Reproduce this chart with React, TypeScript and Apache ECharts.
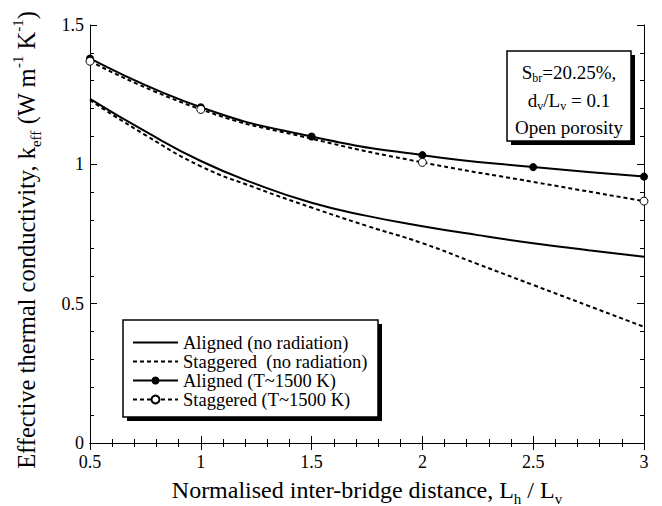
import React, { useEffect, useRef } from "react";
import * as echarts from "echarts";

const FONT = "Liberation Serif";

// x = normalised inter-bridge distance, y = k_eff
const alignedNoRad: [number, number][] = [
  [0.5, 1.235], [0.75, 1.118], [1, 1.012], [1.25, 0.929], [1.5, 0.862], [1.75, 0.815],
  [2, 0.778], [2.25, 0.746], [2.5, 0.717], [2.75, 0.692], [3, 0.668],
];
const staggeredNoRad: [number, number][] = [
  [0.5, 1.23], [0.75, 1.105], [1, 0.993], [1.25, 0.915], [1.5, 0.845], [1.75, 0.779],
  [2, 0.717], [2.25, 0.642], [2.5, 0.567], [2.75, 0.492], [3, 0.417],
];
const alignedRad: [number, number][] = [
  [0.5, 1.38], [1, 1.205], [1.5, 1.1], [2, 1.033], [2.5, 0.99], [3, 0.956],
];
const staggeredRad: [number, number][] = [
  [0.5, 1.37], [1, 1.197], [1.5, 1.092], [2, 1.007], [2.5, 0.937], [3, 0.868],
];
// points of the staggered (T~1500 K) curve that carry a marker
const staggeredRadMarked = [0.5, 1, 2, 3];

const seriesNames = [
  "Aligned (no radiation)",
  "Staggered  (no radiation)",
  "Aligned (T~1500 K)",
  "Staggered (T~1500 K)",
];

export default function App() {
  const ref = useRef<HTMLDivElement>(null);
  useEffect(() => {
    if (!ref.current) return;
    const chart = echarts.init(ref.current, null, { renderer: "svg" });
    const axisLine = { show: true, lineStyle: { color: "#000", width: 1 } };
    const tick = { show: true, inside: true, length: 7, lineStyle: { color: "#000", width: 1 } };
    const minorTick = { show: true, splitNumber: 5, length: 4, lineStyle: { color: "#000", width: 1 } };
    const label = { color: "#000", fontFamily: FONT, fontSize: 18 };
    const richFor = (size: number, small: number) => ({
      n: { fontFamily: FONT, fontSize: size, color: "#000", lineHeight: size + 8 },
      sub: { fontFamily: FONT, fontSize: small, color: "#000", lineHeight: small, verticalAlign: "bottom" },
      sup: { fontFamily: FONT, fontSize: small, color: "#000", lineHeight: small, verticalAlign: "top" },
    });
    const annRich = {
      n: { fontFamily: FONT, fontSize: 19, color: "#000", lineHeight: 24 },
      sub: { fontFamily: FONT, fontSize: 12, color: "#000", lineHeight: 12, verticalAlign: "bottom" },
    };
    const dash = [4, 3];
    const hiddenSymbol = { opacity: 0, color: "rgba(0,0,0,0)", borderColor: "rgba(0,0,0,0)", borderWidth: 0 };
    chart.setOption({
      animation: false,
      backgroundColor: "#fff",
      grid: { left: 90, right: 18, top: 25, bottom: 63, containLabel: false, outerBoundsMode: "none" },
      xAxis: [
        {
          type: "value", min: 0.5, max: 3, interval: 0.5,
          axisLine, axisTick: tick, minorTick, splitLine: { show: false },
          axisLabel: { ...label, margin: 10 },
          name: "{n|Normalised inter-bridge distance, L}{sub|h}{n| / L}{sub|v}",
          nameLocation: "middle", nameGap: 31,
          nameTextStyle: { rich: richFor(24, 15) },
        },
        {
          type: "value", position: "top", min: 0.5, max: 3, interval: 0.5,
          axisLine, axisTick: tick, minorTick, splitLine: { show: false },
          axisLabel: { show: false },
        },
      ],
      yAxis: [
        {
          type: "value", min: 0, max: 1.5, interval: 0.5,
          axisLine, axisTick: tick, minorTick, splitLine: { show: false },
          axisLabel: { ...label, margin: 6 },
          name: "{n|Effective thermal conductivity, k}{sub|eff}{n| (W m}{sup|-1}{n| K}{sup|-1}{n|)}",
          nameLocation: "middle", nameGap: 47,
          nameTextStyle: { rich: richFor(24.5, 15), padding: [0, 12, 0, 0] },
        },
        {
          type: "value", position: "right", min: 0, max: 1.5, interval: 0.5,
          axisLine, axisTick: tick, minorTick, splitLine: { show: false },
          axisLabel: { show: false },
        },
      ],
      legend: {
        orient: "vertical", left: 132, top: 333, padding: 0,
        itemWidth: 45, itemHeight: 10, itemGap: 0,
        textStyle: { fontFamily: FONT, fontSize: 18.5, color: "#000", lineHeight: 17.5 },
        data: [
          { name: seriesNames[0], itemStyle: hiddenSymbol },
          { name: seriesNames[1], itemStyle: hiddenSymbol },
          { name: seriesNames[2] },
          { name: seriesNames[3] },
        ],
      },
      graphic: [
        { type: "rect", shape: { x: 127, y: 324, width: 255, height: 97 }, style: { fill: "#000" }, z: 1 },
        { type: "rect", shape: { x: 123, y: 320, width: 255, height: 97 }, style: { fill: "#fff", stroke: "#000", lineWidth: 1.5 }, z: 1 },
        { type: "rect", shape: { x: 511, y: 55, width: 124, height: 90 }, style: { fill: "#000" }, z: 1 },
        { type: "rect", shape: { x: 507, y: 51, width: 124, height: 90 }, style: { fill: "#fff", stroke: "#000", lineWidth: 1.5 }, z: 1 },
        {
          type: "text", x: 569, y: 72, z: 2,
          style: { text: "{n|S}{sub|br}{n|=20.25%,}", rich: annRich, align: "center", verticalAlign: "middle" },
        },
        {
          type: "text", x: 569, y: 100, z: 2,
          style: { text: "{n|d}{sub|v}{n|/L}{sub|v}{n| = 0.1}", rich: annRich, align: "center", verticalAlign: "middle" },
        },
        {
          type: "text", x: 569, y: 127, z: 2,
          style: { text: "{n|Open porosity}", rich: annRich, align: "center", verticalAlign: "middle" },
        },
      ],
      series: [
        {
          name: seriesNames[0], type: "line", smooth: true, symbol: "none",
          data: alignedNoRad, lineStyle: { color: "#000", width: 2 }, itemStyle: { color: "#000" },
        },
        {
          name: seriesNames[1], type: "line", smooth: true, symbol: "none",
          data: staggeredNoRad, lineStyle: { color: "#000", width: 2, type: dash }, itemStyle: { color: "#000" },
        },
        {
          name: seriesNames[2], type: "line", smooth: true, symbol: "circle", symbolSize: 8,
          data: alignedRad, lineStyle: { color: "#000", width: 2 }, itemStyle: { color: "#000" },
        },
        {
          name: seriesNames[3], type: "line", smooth: true, symbol: "circle", symbolSize: 8,
          data: staggeredRad.map((p) =>
            staggeredRadMarked.includes(p[0]) ? { value: p } : { value: p, symbol: "none" }
          ),
          lineStyle: { color: "#000", width: 2, type: dash },
          itemStyle: { color: "#fff", borderColor: "#000", borderWidth: 1 },
          z: 3,
        },
      ],
    });
    return () => chart.dispose();
  }, []);
  return (
    <div
      ref={ref}
      style={{ position: "fixed", left: 0, top: 0, width: 662, height: 506, background: "#fff" }}
    />
  );
}
